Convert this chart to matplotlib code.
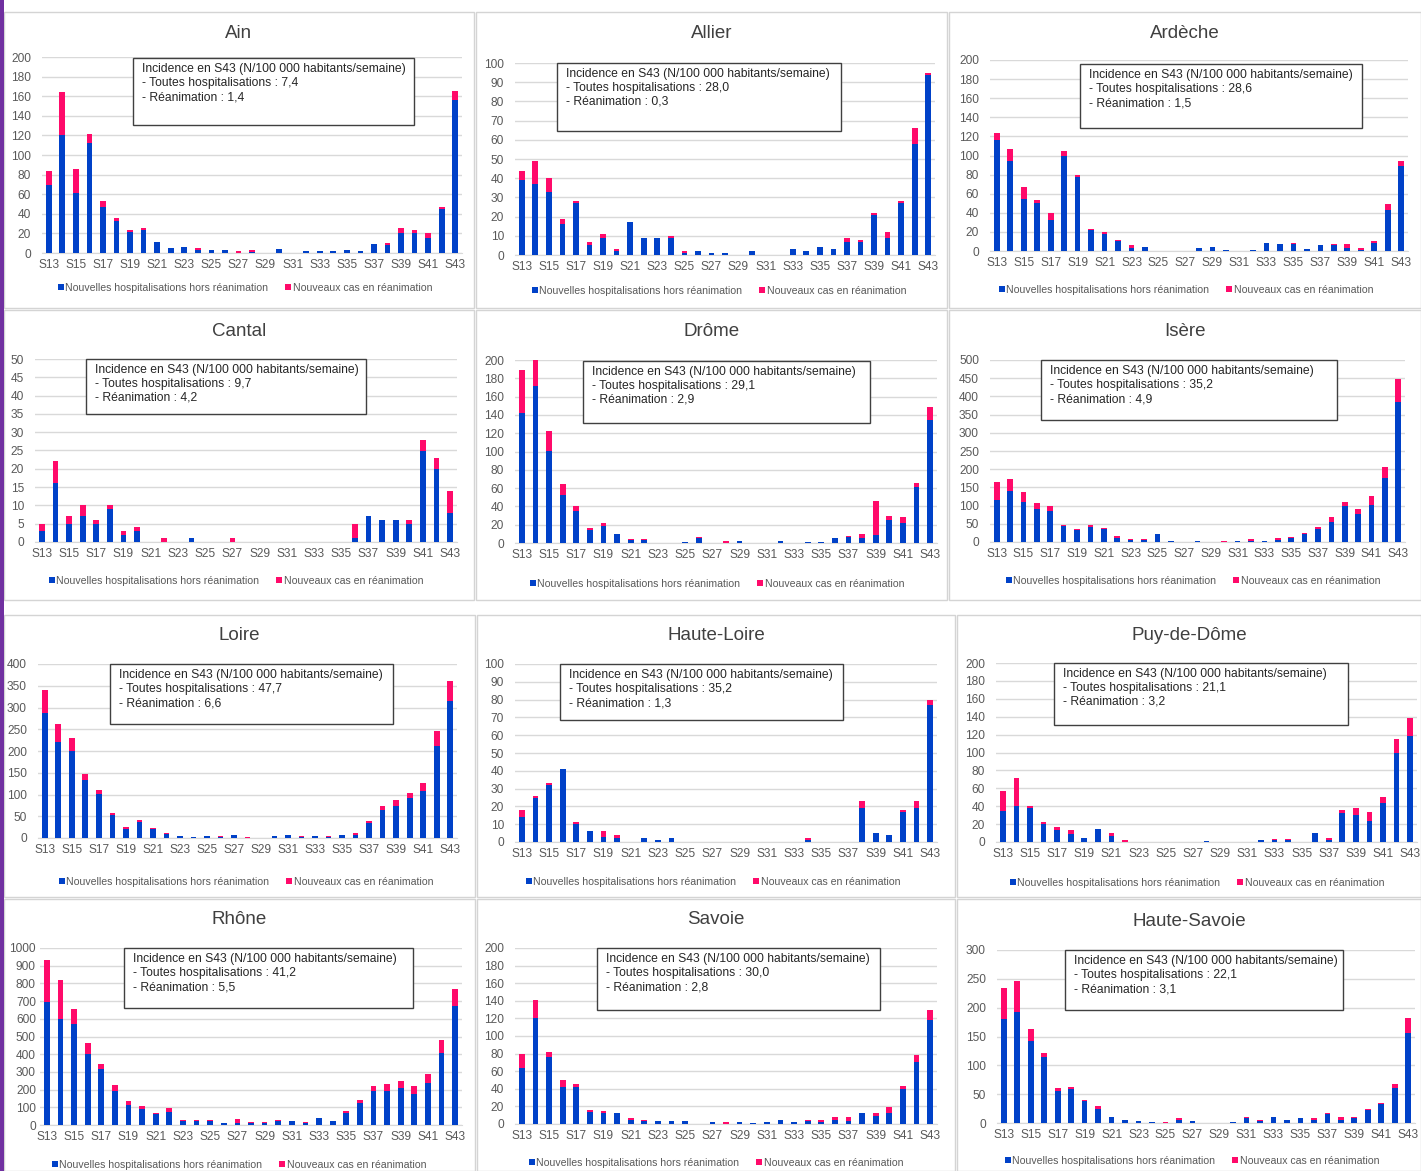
import matplotlib
matplotlib.use("Agg")
import matplotlib.pyplot as plt
from matplotlib.patches import Rectangle

plt.rcParams['font.family'] = ['Liberation Sans', 'DejaVu Sans']

# ---------------------------------------------------------------- data
weeks = [f"S{w}" for w in range(13, 44)]

hosp_ain = [69, 120, 61, 112, 47, 33, 21, 23, 11, 5, 6, 3, 3, 3, 0, 1, 0, 4, 0, 2, 2, 2, 3, 2, 9, 8, 20, 20, 15, 45, 156]
rea_ain = [15, 44, 25, 9, 6, 3, 2, 3, 0, 0, 0, 2, 0, 0, 2, 2, 0, 0, 0, 0, 0, 0, 0, 0, 0, 2, 6, 3, 5, 2, 9]

hosp_allier = [39, 37, 33, 16, 27, 5, 9, 2, 17, 9, 9, 9, 1, 2, 1, 1, 0, 2, 0, 0, 3, 2, 4, 3, 7, 7, 21, 9, 27, 58, 94]
rea_allier = [5, 12, 7, 3, 1, 2, 2, 1, 0, 0, 0, 1, 1, 0, 0, 0, 0, 0, 0, 0, 0, 0, 0, 0, 2, 1, 1, 3, 1, 8, 1]

hosp_ardeche = [116, 94, 54, 50, 32, 100, 77, 22, 18, 10, 3, 4, 0, 0, 0, 3, 4, 1, 0, 1, 8, 7, 7, 2, 6, 6, 3, 1, 8, 43, 89]
rea_ardeche = [8, 13, 13, 3, 8, 5, 3, 1, 2, 1, 3, 0, 0, 0, 0, 0, 0, 0, 0, 0, 0, 0, 1, 0, 0, 1, 4, 2, 2, 6, 5]

hosp_cantal = [3, 16, 5, 7, 5, 9, 2, 3, 0, 0, 0, 1, 0, 0, 0, 0, 0, 0, 0, 0, 0, 0, 0, 1, 7, 6, 6, 5, 25, 20, 8]
rea_cantal = [2, 6, 2, 3, 1, 1, 1, 1, 0, 1, 0, 0, 0, 0, 1, 0, 0, 0, 0, 0, 0, 0, 0, 4, 0, 0, 0, 1, 3, 3, 6]

hosp_drome = [142, 172, 101, 52, 35, 14, 19, 10, 3, 3, 0, 0, 1, 6, 0, 0, 2, 0, 0, 2, 0, 1, 1, 5, 7, 6, 9, 25, 22, 61, 134]
rea_drome = [47, 28, 21, 12, 5, 2, 3, 0, 1, 1, 0, 0, 0, 1, 0, 2, 0, 0, 0, 0, 0, 0, 0, 0, 1, 4, 37, 5, 6, 5, 15]

hosp_isere = [115, 140, 110, 90, 84, 43, 32, 40, 35, 12, 5, 5, 21, 4, 0, 4, 0, 0, 4, 4, 4, 6, 10, 21, 35, 54, 100, 76, 103, 176, 384]
rea_isere = [50, 33, 27, 16, 14, 3, 3, 6, 3, 4, 3, 3, 2, 0, 0, 0, 0, 4, 0, 3, 0, 4, 5, 5, 5, 14, 11, 16, 22, 30, 64]

hosp_loire = [288, 220, 199, 133, 101, 53, 20, 37, 20, 10, 4, 2, 4, 2, 6, 0, 0, 4, 6, 2, 4, 2, 8, 8, 34, 65, 74, 93, 109, 212, 314]
rea_loire = [53, 42, 31, 15, 10, 4, 5, 4, 3, 1, 0, 0, 0, 2, 0, 2, 0, 0, 0, 2, 0, 2, 0, 3, 5, 9, 14, 11, 18, 34, 48]

hosp_hloire = [14, 25, 32, 41, 10, 6, 3, 2, 0, 2, 1, 2, 0, 0, 0, 0, 0, 0, 0, 0, 0, 1, 0, 0, 0, 19, 5, 4, 17, 19, 77]
rea_hloire = [4, 1, 1, 0, 1, 0, 3, 2, 0, 0, 0, 0, 0, 0, 0, 0, 0, 0, 0, 0, 0, 1, 0, 0, 0, 4, 0, 0, 1, 4, 3]

hosp_puy = [35, 40, 38, 20, 13, 9, 4, 14, 7, 0, 0, 0, 0, 0, 0, 1, 0, 0, 0, 2, 2, 2, 0, 10, 2, 32, 30, 23, 44, 100, 118]
rea_puy = [22, 31, 2, 2, 4, 4, 1, 0, 3, 2, 0, 0, 0, 0, 0, 0, 0, 0, 0, 0, 1, 1, 0, 0, 3, 4, 8, 10, 6, 15, 20]

hosp_rhone = [695, 600, 570, 400, 315, 193, 112, 90, 60, 72, 25, 25, 25, 12, 12, 12, 12, 25, 20, 12, 37, 20, 67, 125, 193, 193, 208, 175, 240, 405, 670]
rea_rhone = [235, 218, 88, 65, 30, 32, 23, 17, 5, 23, 5, 5, 5, 0, 23, 6, 6, 5, 5, 6, 5, 5, 10, 15, 27, 39, 40, 45, 50, 78, 100]

hosp_savoie = [64, 120, 76, 42, 42, 14, 13, 12, 5, 3, 3, 3, 3, 0, 2, 0, 2, 1, 2, 4, 2, 3, 2, 5, 3, 12, 9, 12, 40, 71, 118]
rea_savoie = [16, 21, 6, 8, 4, 2, 2, 1, 2, 2, 0, 0, 0, 0, 0, 2, 0, 0, 0, 0, 0, 2, 2, 3, 5, 0, 4, 7, 3, 7, 12]

hosp_hsavoie = [181, 192, 142, 114, 55, 59, 38, 25, 10, 6, 3, 2, 0, 6, 4, 0, 0, 2, 8, 4, 10, 6, 9, 6, 15, 6, 8, 22, 33, 60, 156]
rea_hsavoie = [53, 54, 21, 8, 6, 4, 2, 4, 1, 0, 1, 0, 2, 2, 0, 0, 0, 0, 2, 2, 1, 0, 0, 2, 2, 4, 2, 2, 2, 8, 26]

departements = ["Ain", "Allier", "Ardèche", "Cantal", "Drôme", "Isère",
                "Loire", "Haute-Loire", "Puy-de-Dôme", "Rhône", "Savoie", "Haute-Savoie"]
hosp_series = [hosp_ain, hosp_allier, hosp_ardeche, hosp_cantal, hosp_drome, hosp_isere,
               hosp_loire, hosp_hloire, hosp_puy, hosp_rhone, hosp_savoie, hosp_hsavoie]
rea_series = [rea_ain, rea_allier, rea_ardeche, rea_cantal, rea_drome, rea_isere,
              rea_loire, rea_hloire, rea_puy, rea_rhone, rea_savoie, rea_hsavoie]
incid_total = ["7,4", "28,0", "28,6", "9,7", "29,1", "35,2", "47,7", "35,2", "21,1", "41,2", "30,0", "22,1"]
incid_rea = ["1,4", "0,3", "1,5", "4,2", "2,9", "4,9", "6,6", "1,3", "3,2", "5,5", "2,8", "3,1"]
y_max = [200, 100, 200, 50, 200, 500, 400, 100, 200, 1000, 200, 300]
y_step = [20, 10, 20, 5, 20, 50, 50, 10, 20, 100, 20, 50]

label_hosp = "Nouvelles hospitalisations hors réanimation"
label_rea = "Nouveaux cas en réanimation"

# ---------------------------------------------------------------- layout (pixels)
W, H = 1421, 1171
BLUE = "#0041C8"
PINK = "#FF0A6A"
GRID = "#D9D9D9"
TXT = "#595959"

# panel frame: x0, y0, x1, y1
frames = [
    (4, 12, 474, 308), (476, 12, 947, 308), (949, 12, 1421, 308),
    (4, 310, 474, 600), (476, 310, 947, 600), (949, 310, 1421, 600),
    (4, 615, 475, 897), (477, 615, 955, 897), (957, 615, 1421, 897),
    (4, 899, 475, 1171), (477, 899, 955, 1171), (957, 899, 1421, 1171),
]
# plot area: x_left, x_right, y_top(ymax), y_zero
plots = [
    (42, 462, 57, 253), (515, 935, 63, 255), (990, 1408, 60, 251),
    (35, 457, 359, 542), (515, 937, 360, 543), (990, 1405, 360, 542),
    (38, 457, 664, 838), (515, 937, 664, 842), (996, 1417, 663, 842),
    (40, 462, 948, 1125), (515, 937, 948, 1124), (997, 1415, 950, 1123),
]
# gap between y tick labels and plot area (points)
y_pad = [8, 8, 8, 8, 8, 8, 8, 8, 8, 3, 8, 8]
# annotation box: x0, y0, x1, y1
boxes = [
    (133, 58, 414, 125), (557, 63, 841, 131), (1080, 64, 1362, 128),
    (86, 359, 366, 414), (583, 361, 870, 423), (1041, 360, 1337, 420),
    (110, 664, 393, 724), (560, 664, 843, 720), (1054, 663, 1348, 725),
    (124, 948, 413, 1008), (597, 948, 880, 1010), (1065, 950, 1343, 1010),
]
title_y = [33, 33, 33, 331, 332, 332, 636, 636, 636, 920, 920, 922]
legend_pos = [(245, 288), (719, 291), (1186, 290), (236, 581), (717, 584), (1193, 581),
              (246, 882), (713, 882), (1197, 883), (239, 1165), (716, 1163), (1192, 1161)]


def fx(x):
    return x / W


def fy(y):
    return 1 - y / H


fig = plt.figure(figsize=(W / 100, H / 100), dpi=100)
fig.patch.set_facecolor("white")

# purple strip along the left edge
fig.patches.append(Rectangle((0, 0), fx(4), 1, transform=fig.transFigure,
                             facecolor="#7030A0", edgecolor="none", zorder=5))

for i, name in enumerate(departements):
    fx0, fy0, fx1, fy1 = frames[i]
    fig.patches.append(Rectangle((fx(fx0), fy(fy1)), fx(fx1) - fx(fx0), fy(fy0) - fy(fy1),
                                 transform=fig.transFigure, facecolor="none",
                                 edgecolor="#D4D4D4", linewidth=1.0, zorder=0))

    xl, xr, yt, yz = plots[i]
    ax = fig.add_axes([fx(xl), fy(yz), fx(xr) - fx(xl), (yz - yt) / H])
    hosp = hosp_series[i]
    rea = rea_series[i]
    xs = list(range(len(weeks)))
    ax.bar(xs, hosp, width=0.42, color=BLUE, zorder=3, label=label_hosp)
    ax.bar(xs, rea, width=0.42, bottom=hosp, color=PINK, zorder=3, label=label_rea)
    ax.set_xlim(-0.5, len(weeks) - 0.5)
    ax.set_ylim(0, y_max[i])
    ax.set_yticks(range(0, y_max[i] + 1, y_step[i]))
    ax.set_xticks(xs[::2])
    ax.set_xticklabels(weeks[::2])
    ax.grid(axis="y", color=GRID, linewidth=1.0, zorder=0)
    ax.set_axisbelow(True)
    for s in ("top", "right", "left"):
        ax.spines[s].set_visible(False)
    ax.spines["bottom"].set_color(GRID)
    ax.tick_params(axis="both", length=0, labelsize=8.6, colors=TXT, pad=4)
    ax.tick_params(axis="y", pad=y_pad[i])
    ax.set_facecolor("none")

    # title
    fig.text(fx((fx0 + fx1) / 2), fy(title_y[i]), name, ha="center", va="center",
             fontsize=13.5, color="#404040")

    # annotation box
    bx0, by0, bx1, by1 = boxes[i]
    fig.patches.append(Rectangle((fx(bx0), fy(by1)), fx(bx1) - fx(bx0), fy(by0) - fy(by1),
                                 transform=fig.transFigure, facecolor="white",
                                 edgecolor="#404040", linewidth=1.0, zorder=4))
    lines = ["Incidence en S43 (N/100 000 habitants/semaine)",
             f"- Toutes hospitalisations : {incid_total[i]}",
             f"- Réanimation : {incid_rea[i]}"]
    for k, line in enumerate(lines):
        fig.text(fx(bx0 + 9), fy(by0 + 11 + 14 * k), line, ha="left", va="center",
                 fontsize=8.7, color="#262626", zorder=6)

    # legend
    lx, ly = legend_pos[i]
    handles, labels = ax.get_legend_handles_labels()
    fig.legend(handles, labels, loc="center", bbox_to_anchor=(fx(lx), fy(ly)),
               ncol=2, frameon=False, fontsize=7.6, handlelength=0.55, handleheight=0.55,
               handletextpad=0.15, columnspacing=1.6, labelcolor=TXT, borderaxespad=0)

fig.savefig("out.png", dpi=100, facecolor="white")
